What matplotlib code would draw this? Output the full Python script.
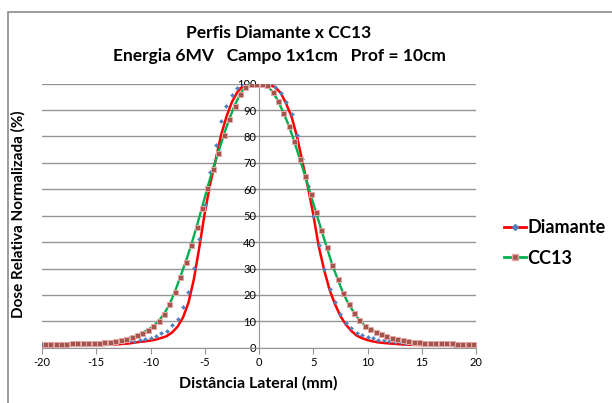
import numpy as np
import matplotlib.pyplot as plt
from matplotlib.lines import Line2D
from matplotlib.patches import Rectangle

plt.rcParams['font.family'] = ['Lato', 'DejaVu Sans']
plt.rcParams['axes.unicode_minus'] = False

# Diamante: medidas a cada 0.5 mm, de -20 a 20 mm
diam_x = np.arange(-20, 20.01, 0.5)
diam_pts = [
    1.3, 1.3, 1.3, 1.3, 1.4, 1.4, 1.4, 1.5, 1.5, 1.6,
    1.6, 1.7, 1.8, 1.9, 2.0, 2.2, 2.4, 2.7, 3.0, 3.3,
    3.8, 4.4, 5.4, 6.4, 8.6, 10.9, 15.4, 21.2, 30.3, 41.2,
    54.0, 66.6, 76.6, 86.0, 91.6, 95.8, 98.3, 99.5, 100, 100,
    100,
    100, 99.7, 98.9, 96.5, 93.1, 88.4, 80.6, 71.5, 61.1, 49.8,
    38.8, 29.9, 22.3, 17.2, 12.6, 9.5, 7.3, 5.6, 4.7, 4.0,
    3.5, 3.0, 2.8, 2.5, 2.3, 2.1, 1.9, 1.8, 1.7, 1.6,
    1.5, 1.4, 1.4, 1.3, 1.3, 1.2, 1.2, 1.2, 1.1, 1.1,
]
# linha vermelha (curva Diamante suavizada)
diam_line = [
    0.6, 0.62, 0.65, 0.68, 0.7, 0.75, 0.8, 0.82, 0.85, 0.9,
    0.95, 1.0, 1.1, 1.2, 1.3, 1.45, 1.6, 1.9, 2.2, 2.4,
    2.7, 3.1, 3.7, 4.4, 5.8, 8.0, 11.5, 17.0, 26.0, 38.0,
    51.0, 62.0, 71.0, 80.5, 87.5, 93.0, 96.8, 99.0, 99.8, 100,
    100,
    100, 99.6, 98.6, 96.5, 92.5, 87.5, 80.0, 70.5, 61.0, 50.5,
    38.5, 29.5, 22.0, 16.5, 12.0, 8.8, 6.4, 4.6, 3.6, 2.9,
    2.4, 2.0, 1.8, 1.6, 1.45, 1.3, 1.2, 1.1, 1.05, 1.0,
    0.95, 0.9, 0.85, 0.8, 0.75, 0.7, 0.7, 0.7, 0.65, 0.6,
]

# CC13: medidas a cada 0.5 mm, de -19.75 a 19.75 mm
cc13_x = np.arange(-19.75, 19.76, 0.5)
cc13_pts = [
    1.4, 1.4, 1.4, 1.4, 1.5, 1.7, 1.7, 1.7, 1.8, 1.8,
    1.9, 2.1, 2.3, 2.6, 3.0, 3.4, 4.0, 4.7, 5.7, 6.7,
    8.1, 10.1, 12.8, 16.4, 21.2, 26.9, 32.6, 38.9, 45.8, 53.1,
    60.6, 67.8, 73.9, 80.6, 86.5, 91.7, 96.0, 98.9, 99.8, 100,
    100, 99.4, 96.9, 93.6, 89.0, 84.1, 78.2, 71.6, 65.1, 58.1,
    51.3, 44.6, 38.0, 31.4, 26.0, 20.7, 16.6, 13.3, 10.5, 8.4,
    7.1, 6.1, 5.1, 4.6, 3.8, 3.3, 2.8, 2.5, 2.3, 2.1,
    1.9, 1.9, 1.8, 1.8, 1.6, 1.6, 1.5, 1.5, 1.5, 1.5,
]

x_ticks = [-20, -15, -10, -5, 0, 5, 10, 15, 20]
y_ticks = [0, 10, 20, 30, 40, 50, 60, 70, 80, 90, 100]

RED = '#FF0000'
BLUE = '#4F81BD'
GREEN = '#00B050'
SQ_FACE = '#A2564C'
SQ_EDGE = '#E5A6A6'
GRID = '#959595'


def plot_profiles():
    fig = plt.figure(figsize=(6.12, 4.03), dpi=100)
    ax = fig.add_axes([42 / 612, 55.3 / 403, 434 / 612, 264 / 403])

    ax.plot(diam_x, diam_line, color=RED, lw=1.8, zorder=3)
    ax.plot(diam_x, diam_pts, ls='none', marker='D', ms=2.1,
            mfc=BLUE, mec=BLUE, mew=0.3, zorder=4)
    ax.plot(cc13_x, cc13_pts, color=GREEN, lw=1.7, zorder=5)
    ax.plot(cc13_x, cc13_pts, ls='none', marker='s', ms=3.6,
            mfc=SQ_FACE, mec=SQ_EDGE, mew=0.7, zorder=6)

    ax.set_xlim(-20, 20)
    ax.set_ylim(0, 100)
    ax.set_xticks(x_ticks)
    ax.set_yticks(y_ticks)
    ax.set_yticklabels([str(v) for v in y_ticks])
    ax.grid(axis='y', color=GRID, lw=1.0)
    ax.set_axisbelow(True)

    for s in ['top', 'right']:
        ax.spines[s].set_visible(False)
    ax.spines['left'].set_position(('data', 0))
    ax.spines['left'].set_color(GRID)
    ax.spines['bottom'].set_color(GRID)
    ax.spines['left'].set_zorder(1)
    ax.tick_params(axis='x', direction='out', length=4, color=GRID,
                   labelsize=8, pad=3)
    ax.tick_params(axis='y', length=0, labelsize=8, pad=2)

    fig.text(279 / 612, 1 - 33 / 403, 'Perfis Diamante x CC13',
             ha='center', va='center', fontsize=12.5, fontweight='bold')
    fig.text(279 / 612, 1 - 56 / 403,
             'Energia 6MV   Campo 1x1cm   Prof = 10cm',
             ha='center', va='center', fontsize=12.5, fontweight='bold')
    fig.text(258 / 612, 1 - 383 / 403, 'Distância Lateral (mm)',
             ha='center', va='center', fontsize=11.5, fontweight='bold')
    fig.text(18 / 612, 1 - 214 / 403, 'Dose Relativa Normalizada (%)',
             ha='center', va='center', rotation=90, fontsize=11,
             fontweight='bold')

    handles = [
        Line2D([], [], color=RED, lw=2, marker='D', ms=3, mfc=BLUE, mec=BLUE),
        Line2D([], [], color=GREEN, lw=2, marker='s', ms=4,
               mfc=SQ_FACE, mec=SQ_EDGE),
    ]
    fig.legend(handles, ['Diamante', 'CC13'], loc='upper left',
               bbox_to_anchor=(497 / 612, 1 - 212 / 403), frameon=False,
               prop={'size': 13, 'weight': 'bold'}, handlelength=1.2,
               handletextpad=0.1, labelspacing=0.75, borderaxespad=0)

    # moldura do gráfico (cortada à direita e embaixo)
    fig.add_artist(Rectangle((7.5 / 612, -0.1), 1.2, 0.1 + 1 - 12.5 / 403,
                             transform=fig.transFigure, fill=False,
                             ec='#8C8C8C', lw=1.2))

    fig.savefig('out.png', dpi=100)


plot_profiles()
